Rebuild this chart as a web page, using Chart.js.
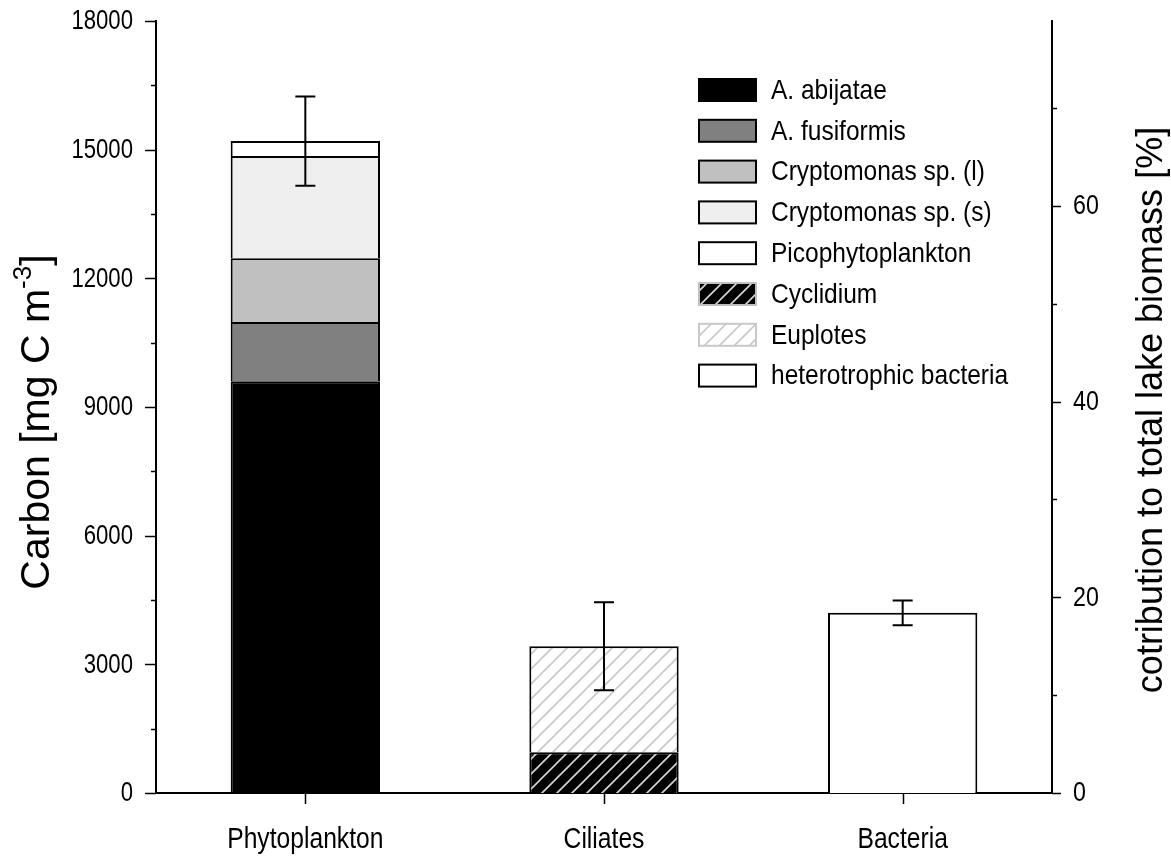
<!DOCTYPE html>
<html>
<head>
<meta charset="utf-8">
<script src="https://cdn.jsdelivr.net/npm/chart.js@4.4.1/dist/chart.umd.min.js"></script>
<style>
    body { margin: 0; background: #ffffff; }
    #wrap { width: 1171px; height: 860px; position: relative; }
</style>
</head>
<body>
<div id="wrap"><canvas id="biomassChart"></canvas></div>
<script>
// Data (mg C m^-3)
const categories = ["Phytoplankton", "Ciliates", "Bacteria"];
const abijatae = [9600, null, null];
const fusiformis = [1380, null, null];
const cryptoLarge = [1490, null, null];
const cryptoSmall = [2380, null, null];
const picophyto = [350, null, null];
const cyclidium = [null, 950, null];
const euplotes = [null, 2470, null];
const hetBacteria = [null, null, 4200];
const errors = [1040, 1025, 290];
const leftTicks = [0, 3000, 6000, 9000, 12000, 15000, 18000];
const rightTicks = [0, 20, 40, 60];
const rightMax = 78.9;

const FONT = "'Liberation Sans', Arial, sans-serif";

document.addEventListener( "DOMContentLoaded", function () {

    // diagonal hatch fill
    function hatch( bg, fg ) {
        const c = document.createElement( "canvas" );
        c.width = 15;
        c.height = 15;
        const g = c.getContext( "2d" );
        g.fillStyle = bg;
        g.fillRect( 0, 0, 15, 15 );
        g.strokeStyle = fg;
        g.lineWidth = 1.6;
        g.beginPath();
        g.moveTo( 0, 15 ); g.lineTo( 15, 0 );
        g.moveTo( -2, 2 ); g.lineTo( 2, -2 );
        g.moveTo( 13, 17 ); g.lineTo( 17, 13 );
        g.stroke();
        const ctx = document.createElement( "canvas" ).getContext( "2d" );
        return ctx.createPattern( c, "repeat" );
    }

    // the figure uses a narrow sans, so squeeze the text horizontally
    function narrowText( ctx, text, x, y, align, size, squeeze ) {
        ctx.save();
        ctx.translate( x, y );
        ctx.scale( squeeze, 1 );
        ctx.font = size + "px " + FONT;
        ctx.textAlign = align;
        ctx.fillText( text, 0, 0 );
        ctx.restore();
    }

    const series = [
        { label: "A. abijatae", data: abijatae, fill: "#000000", edge: "#000000" },
        { label: "A. fusiformis", data: fusiformis, fill: "#808080", edge: "#000000" },
        { label: "Cryptomonas sp. (l)", data: cryptoLarge, fill: "#c0c0c0", edge: "#000000" },
        { label: "Cryptomonas sp. (s)", data: cryptoSmall, fill: "#efefef", edge: "#000000" },
        { label: "Picophytoplankton", data: picophyto, fill: "#ffffff", edge: "#000000" },
        { label: "Cyclidium", data: cyclidium, fill: hatch( "#000000", "#d8d8d8" ), edge: "#000000", legendEdge: "#c0c0c0" },
        { label: "Euplotes", data: euplotes, fill: hatch( "#ffffff", "#c8c8c8" ), edge: "#000000", legendEdge: "#c8c8c8" },
        { label: "heterotrophic bacteria", data: hetBacteria, fill: "#ffffff", edge: "#000000" }
    ];

    const datasets = series.map( s => ( {
        label: s.label,
        data: s.data,
        backgroundColor: s.fill,
        borderColor: s.edge,
        legendEdge: s.legendEdge || s.edge,
        borderWidth: { top: 2, left: 2, right: 2, bottom: 0 },
        borderSkipped: false,
        stack: "biomass",
        yAxisID: "y",
        barPercentage: 0.5,
        categoryPercentage: 1.0
    } ) );

    // tick marks and labels, error bars, legend and axis titles
    const decorations = {
        id: "decorations",
        afterDatasetsDraw( chart ) {
            const ctx = chart.ctx;
            const x = chart.scales.x;
            const y = chart.scales.y;
            ctx.save();
            ctx.strokeStyle = "#000000";
            ctx.lineWidth = 2;
            categories.forEach( ( c, i ) => {
                let total = 0;
                chart.data.datasets.forEach( d => { total += d.data[i] || 0; } );
                const px = x.getPixelForValue( i );
                const top = y.getPixelForValue( total + errors[i] );
                const bot = y.getPixelForValue( total - errors[i] );
                ctx.beginPath();
                ctx.moveTo( px, top ); ctx.lineTo( px, bot );
                ctx.moveTo( px - 10, top ); ctx.lineTo( px + 10, top );
                ctx.moveTo( px - 10, bot ); ctx.lineTo( px + 10, bot );
                ctx.stroke();
            } );
            ctx.restore();
        },
        afterDraw( chart ) {
            const ctx = chart.ctx;
            const area = chart.chartArea;
            const x = chart.scales.x;
            const y = chart.scales.y;
            const y2 = chart.scales.y2;
            ctx.save();
            ctx.strokeStyle = "#000000";
            ctx.lineWidth = 1.5;
            ctx.beginPath();
            for ( let v = 0; v <= 18000; v += 1500 ) {
                const py = Math.round( y.getPixelForValue( v ) ) + 0.5;
                const len = v % 3000 === 0 ? 11 : 5;
                ctx.moveTo( area.left - len, py ); ctx.lineTo( area.left, py );
            }
            for ( let v = 0; v <= rightMax; v += 10 ) {
                const py = Math.round( y2.getPixelForValue( v ) ) + 0.5;
                const len = v % 20 === 0 ? 9 : 5;
                ctx.moveTo( area.right, py ); ctx.lineTo( area.right + len, py );
            }
            categories.forEach( ( c, i ) => {
                const px = Math.round( x.getPixelForValue( i ) ) + 0.5;
                ctx.moveTo( px, area.bottom ); ctx.lineTo( px, area.bottom + 11 );
            } );
            ctx.stroke();

            // tick labels
            ctx.fillStyle = "#000000";
            ctx.textBaseline = "middle";
            y.ticks.forEach( t => {
                narrowText( ctx, String( t.value ), area.left - 23, y.getPixelForValue( t.value ) + 1, "right", 27, 0.82 );
            } );
            y2.ticks.forEach( t => {
                narrowText( ctx, String( t.value ), area.right + 21, y2.getPixelForValue( t.value ) + 1, "left", 27, 0.86 );
            } );
            ctx.textBaseline = "alphabetic";
            categories.forEach( ( c, i ) => {
                narrowText( ctx, c, x.getPixelForValue( i ), area.bottom + 55, "center", 29, 0.85 );
            } );

            // legend inside the plot
            const lx = area.left + 543;
            let ly = area.top + 58;
            ctx.textBaseline = "middle";
            chart.data.datasets.forEach( d => {
                ctx.fillStyle = d.backgroundColor;
                ctx.fillRect( lx, ly, 57, 22 );
                ctx.strokeStyle = d.legendEdge;
                ctx.lineWidth = 2;
                ctx.strokeRect( lx, ly, 57, 22 );
                ctx.fillStyle = "#000000";
                narrowText( ctx, d.label, lx + 72, ly + 12, "left", 28.5, 0.86 );
                ly += 40.8;
            } );

            // left title with superscript
            ctx.fillStyle = "#000000";
            ctx.textBaseline = "alphabetic";
            ctx.textAlign = "left";
            ctx.save();
            ctx.translate( 49, 422 );
            ctx.rotate( -Math.PI / 2 );
            const main = "Carbon [mg C m";
            ctx.font = "41px " + FONT;
            const wMain = ctx.measureText( main ).width;
            const wEnd = ctx.measureText( "]" ).width;
            ctx.font = "26px " + FONT;
            const wSup = ctx.measureText( "-3" ).width;
            let tx = -( wMain + wSup + wEnd ) / 2;
            ctx.font = "41px " + FONT;
            ctx.fillText( main, tx, 0 );
            tx += wMain;
            ctx.font = "26px " + FONT;
            ctx.fillText( "-3", tx, -18 );
            tx += wSup;
            ctx.font = "41px " + FONT;
            ctx.fillText( "]", tx, 0 );
            ctx.restore();

            // right title
            ctx.save();
            ctx.translate( 1162, 410 );
            ctx.rotate( -Math.PI / 2 );
            ctx.font = "36px " + FONT;
            ctx.textAlign = "center";
            ctx.fillText( "cotribution to total lake biomass [%]", 0, 0 );
            ctx.restore();
            ctx.restore();
        }
    };

    const canvas = document.getElementById( "biomassChart" );
    new Chart( canvas.getContext( "2d" ), {
        type: "bar",
        data: { labels: categories, datasets: datasets },
        plugins: [decorations],
        options: {
            responsive: true,
            maintainAspectRatio: false,
            animation: false,
            layout: { padding: { top: 21, left: 0, right: 0, bottom: 0 } },
            plugins: {
                legend: { display: false },
                tooltip: { enabled: false }
            },
            scales: {
                x: {
                    stacked: true,
                    grid: { display: false },
                    border: { display: true, color: "#000000", width: 2 },
                    ticks: { display: false },
                    afterFit: s => { s.height = 67; }
                },
                y: {
                    stacked: true,
                    position: "left",
                    min: 0,
                    max: 18000,
                    afterBuildTicks: s => { s.ticks = leftTicks.map( v => ( { value: v } ) ); },
                    grid: { display: false },
                    border: { display: true, color: "#000000", width: 2 },
                    ticks: { display: false },
                    afterFit: s => { s.width = 156; }
                },
                y2: {
                    position: "right",
                    min: 0,
                    max: rightMax,
                    afterBuildTicks: s => { s.ticks = rightTicks.map( v => ( { value: v } ) ); },
                    grid: { display: false },
                    border: { display: true, color: "#000000", width: 2 },
                    ticks: { display: false },
                    afterFit: s => { s.width = 119; }
                }
            }
        }
    } );
} );
</script>
</body>
</html>
